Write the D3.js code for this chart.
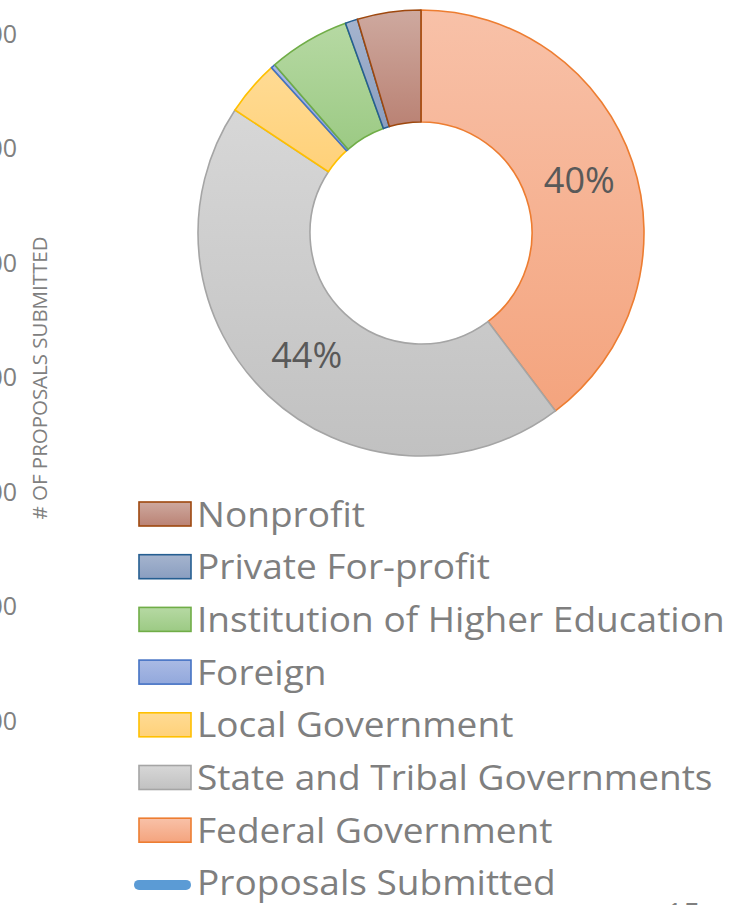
<!DOCTYPE html>
<html>
<head>
<meta charset="utf-8">
<script src="https://cdn.jsdelivr.net/npm/d3@7"></script>
<style>
  html, body { margin: 0; padding: 0; background: #fff; }
  svg { display: block; }
  text { font-family: "Open Sans", sans-serif; }
</style>
</head>
<body>
<svg id="chart"></svg>
<script>
// slice order, clockwise from 12 o'clock
const categories = ["Federal Government", "State and Tribal Governments", "Local Government", "Foreign",
  "Institution of Higher Education", "Private For-profit", "Nonprofit"];
const shares = [39.7, 44.6, 4.0, 0.3, 5.9, 0.9, 4.6];
const sliceLabels = ["40%", "44%", "", "", "", "", ""];
const lineSeries = "Proposals Submitted";
const yTicks = [100, 200, 300, 400, 500, 600, 700];
const yTitle = "# OF PROPOSALS SUBMITTED";

const fills = {
  "Federal Government": ["#f8c1a8", "#f4a47e", "#ed7d31"],
  "State and Tribal Governments": ["#d7d7d7", "#c1c1c1", "#a5a5a5"],
  "Local Government": ["#ffdb94", "#ffd179", "#ffc000"],
  "Foreign": ["#aabae4", "#92a8dc", "#4472c4"],
  "Institution of Higher Education": ["#b6d9a3", "#9cca84", "#70ad47"],
  "Private For-profit": ["#a5b4ce", "#8a9ec0", "#255e91"],
  "Nonprofit": ["#cea99f", "#ba8274", "#9e480e"]
};

const width = 755, height = 905;
const svg = d3.select("#chart").attr("width", width).attr("height", height);
const defs = svg.append("defs");

categories.forEach((c, i) => {
  const g = defs.append("linearGradient").attr("id", "grad" + i)
    .attr("x1", 0).attr("y1", 0).attr("x2", 0).attr("y2", 1);
  g.append("stop").attr("offset", "0%").attr("stop-color", fills[c][0]);
  g.append("stop").attr("offset", "100%").attr("stop-color", fills[c][1]);
});

// value axis of the combo chart, cut by the left edge of the slide
const y = d3.scaleLinear().domain([100, 700]).range([720, 33]);
const yAxis = svg.append("g").attr("transform", "translate(17,0)")
  .call(d3.axisLeft(y).tickValues(yTicks).tickSize(0).tickPadding(0));
yAxis.select(".domain").remove();
yAxis.selectAll("text")
  .attr("fill", "#808080")
  .style("font-size", "25px")
  .attr("dy", "0.36em");

svg.append("text")
  .attr("transform", "translate(47,378) rotate(-90)")
  .attr("text-anchor", "middle")
  .attr("fill", "#808080")
  .style("font-size", "20px")
  .attr("textLength", 283)
  .attr("lengthAdjust", "spacingAndGlyphs")
  .text(yTitle);

// doughnut
const cx = 421, cy = 233, outerR = 223, innerR = 111;
const pie = d3.pie().sort(null).value(d => d.v);
const arc = d3.arc().innerRadius(innerR).outerRadius(outerR);
const arcs = pie(categories.map((c, i) => ({ c, v: shares[i], label: sliceLabels[i], i })));

const donut = svg.append("g").attr("transform", `translate(${cx},${cy})`);
donut.selectAll("path")
  .data(arcs)
  .join("path")
  .attr("d", arc)
  .attr("fill", d => `url(#grad${d.data.i})`)
  .attr("stroke", d => fills[d.data.c][2])
  .attr("stroke-width", 1.6)
  .attr("stroke-linejoin", "round");

const labelArc = d3.arc().innerRadius((innerR + outerR) / 2).outerRadius((innerR + outerR) / 2);
donut.selectAll("text.pct")
  .data(arcs.filter(d => d.data.label))
  .join("text")
  .attr("class", "pct")
  .attr("transform", d => {
    const [px, py] = labelArc.centroid(d);
    return `translate(${px},${py})`;
  })
  .attr("text-anchor", "middle")
  .attr("dy", "0.36em")
  .attr("fill", "#595959")
  .style("font-size", "36px")
  .text(d => d.data.label);

// legend, listed bottom-up from the slice order
const legendItems = categories.slice().reverse().map(c => ({ c, type: "box" }));
legendItems.push({ c: lineSeries, type: "line" });

const legend = svg.append("g");
const rowY = i => 514 + i * 52.7;

const rows = legend.selectAll("g.row")
  .data(legendItems)
  .join("g")
  .attr("class", "row")
  .attr("transform", (d, i) => `translate(0,${rowY(i)})`);

rows.filter(d => d.type === "box").append("rect")
  .attr("x", 139).attr("y", -12)
  .attr("width", 52).attr("height", 24)
  .attr("fill", d => `url(#grad${categories.indexOf(d.c)})`)
  .attr("stroke", d => fills[d.c][2])
  .attr("stroke-width", 1.6);

rows.filter(d => d.type === "line").append("line")
  .attr("x1", 139).attr("x2", 186)
  .attr("y1", 2).attr("y2", 2)
  .attr("stroke", "#5b9bd5")
  .attr("stroke-width", 10)
  .attr("stroke-linecap", "round");

const labels = rows.append("text")
  .attr("x", 0)
  .attr("y", 12.5)
  .attr("fill", "#7f7f7f")
  .style("font-size", "34px")
  .text(d => d.c);

// fit the longest label to the width it has in the original
const longest = d3.max(labels.nodes(), n => n.getComputedTextLength());
const k = 528 / longest;
labels.attr("transform", `translate(197,0) scale(${k},1)`);

// page number cut off at the bottom edge
svg.append("text")
  .attr("x", 666).attr("y", 924)
  .attr("fill", "#7f7f7f")
  .style("font-size", "30px")
  .text("15");
</script>
</body>
</html>
